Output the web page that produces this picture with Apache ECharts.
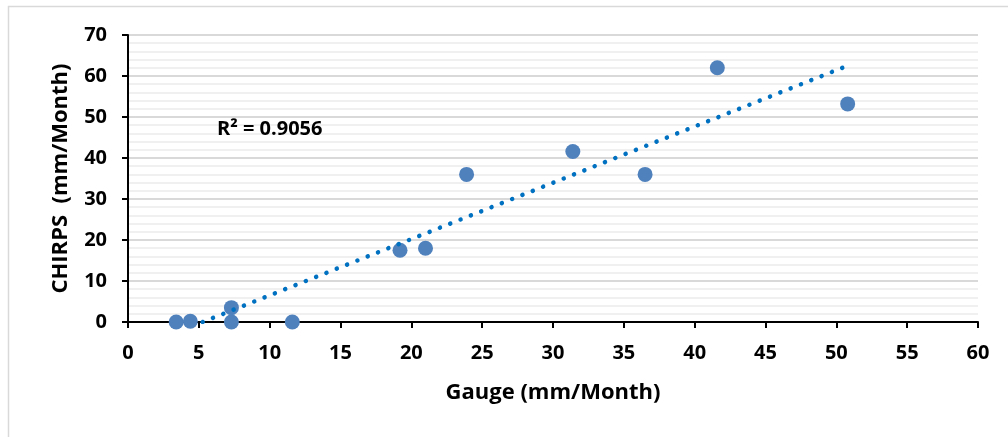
<!DOCTYPE html>
<html>
<head>
<meta charset="utf-8">
<script src="https://cdn.jsdelivr.net/npm/echarts@6/dist/echarts.min.js"></script>
<style>
html,body{margin:0;padding:0;background:#fff;}
#chart{width:1008px;height:437px;}
</style>
</head>
<body>
<div id="chart"></div>
<script>
// Gauge (mm/Month) vs CHIRPS (mm/Month)
const gaugeValues  = [3.4, 4.4, 7.3, 7.3, 11.6, 19.2, 21.0, 23.9, 31.4, 36.5, 41.6, 50.8];
const chirpsValues = [0.0, 0.2, 3.5, 0.0, 0.0, 17.5, 18.0, 36.0, 41.6, 36.0, 62.0, 53.2];
const xTickLabels = [0, 5, 10, 15, 20, 25, 30, 35, 40, 45, 50, 55, 60];
const yTickLabels = [0, 10, 20, 30, 40, 50, 60, 70];
const r2Label = 'R² = 0.9056';
const xTitle = 'Gauge (mm/Month)';
const yTitle = 'CHIRPS  (mm/Month)';

const points = gaugeValues.map((x, i) => [x, chirpsValues[i]]);

// least-squares linear trendline derived from the data
const n = gaugeValues.length;
const mx = gaugeValues.reduce((a, b) => a + b, 0) / n;
const my = chirpsValues.reduce((a, b) => a + b, 0) / n;
let sxy = 0, sxx = 0;
for (let i = 0; i < n; i++) {
  sxy += (gaugeValues[i] - mx) * (chirpsValues[i] - my);
  sxx += (gaugeValues[i] - mx) * (gaugeValues[i] - mx);
}
const slope = sxy / sxx;
const intercept = my - slope * mx;
const xMinData = Math.min(...gaugeValues), xMaxData = Math.max(...gaugeValues);
const xStart = Math.max(xMinData, -intercept / slope);
const trend = [[xStart, slope * xStart + intercept], [xMaxData, slope * xMaxData + intercept]];

const font = '"Open Sans", "Noto Sans", sans-serif';
const chart = echarts.init(document.getElementById('chart'), null, {renderer: 'canvas'});
chart.setOption({
  animation: false,
  backgroundColor: '#fff',
  grid: {left: 128, right: 30, top: 35, bottom: 115, containLabel: false},
  xAxis: {
    type: 'value', min: 0, max: 60, interval: 5,
    name: xTitle, nameLocation: 'middle', nameGap: 60,
    nameTextStyle: {fontFamily: font, fontWeight: 'bold', fontSize: 22, color: '#000'},
    axisLine: {show: true, onZero: false, lineStyle: {color: '#000', width: 2}},
    axisTick: {show: true, length: 6, lineStyle: {color: '#000', width: 2}},
    axisLabel: {fontFamily: font, fontWeight: 'bold', fontSize: 20, color: '#000', margin: 21,
      formatter: v => xTickLabels.includes(v) ? String(v) : ''},
    splitLine: {show: false}
  },
  yAxis: {
    type: 'value', min: 0, max: 70, interval: 10,
    name: yTitle, nameLocation: 'middle', nameGap: 56,
    nameTextStyle: {fontFamily: font, fontWeight: 'bold', fontSize: 22, color: '#000'},
    axisLine: {show: true, onZero: false, lineStyle: {color: '#000', width: 2}},
    axisTick: {show: true, length: 6, lineStyle: {color: '#000', width: 2}},
    axisLabel: {fontFamily: font, fontWeight: 'bold', fontSize: 20, color: '#000', margin: 21,
      formatter: v => yTickLabels.includes(v) ? String(v) : ''},
    splitLine: {show: true, lineStyle: {color: '#d9d9d9', width: 2}},
    minorTick: {show: false, splitNumber: 5},
    minorSplitLine: {show: true, lineStyle: {color: '#f0f0f0', width: 2}}
  },
  graphic: [
    {type: 'rect', silent: true, z: -10,
      shape: {x: 8.5, y: 6.5, width: 1010, height: 440},
      style: {fill: null, stroke: '#d9d9d9', lineWidth: 1.5}},
    {type: 'text', left: 217, top: 119, z: 100,
      style: {text: r2Label, fontFamily: font, fontWeight: 'bold', fontSize: 20, fill: '#000'}}
  ],
  series: [
    {
      type: 'line', data: trend, symbol: 'none', z: 3, clip: true,
      lineStyle: {color: '#0070C0', width: 4.5, type: [0.1, 11], cap: 'round'}
    },
    {
      type: 'scatter', data: points, symbol: 'circle', symbolSize: 15, z: 2,
      itemStyle: {color: '#4F81BD', opacity: 1}
    }
  ]
});
</script>
</body>
</html>
